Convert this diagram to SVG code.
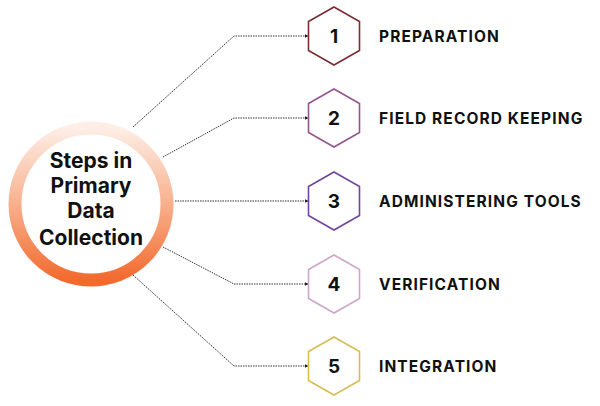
<svg xmlns="http://www.w3.org/2000/svg" width="600" height="406" viewBox="0 0 600 406">
<defs>
<linearGradient id="ring" x1="0" y1="0" x2="0" y2="1">
<stop offset="0" stop-color="#fdeee6"/>
<stop offset="0.45" stop-color="#f8b796"/>
<stop offset="1" stop-color="#f26a2e"/>
</linearGradient>
<marker id="arr" viewBox="0 0 6 6" refX="5" refY="3" markerWidth="4" markerHeight="4" orient="auto">
<path d="M0,0 L6,3 L0,6 z" fill="#222"/>
</marker>
</defs>
<style>
.conn{fill:none;stroke:#333;stroke-width:1;stroke-dasharray:1.5 1;marker-end:url(#arr)}
.hex{fill:#fff;stroke-width:1.6}
.num{font-family:Inter,"Liberation Sans",sans-serif;font-weight:700;font-size:19px;fill:#111;text-anchor:middle}
.lbl{font-family:Inter,"Liberation Sans",sans-serif;font-weight:700;font-size:15.5px;fill:#111;letter-spacing:1.1px}
.ctr{font-family:Inter,"Liberation Sans",sans-serif;font-weight:700;font-size:21px;fill:#111;text-anchor:middle}
</style>
<rect width="600" height="406" fill="#fff"/>
<g id="connectors">
<path class="conn" d="M133,127 L234,36 L308,36"/>
<path class="conn" d="M163,157 L234,118 L308,118"/>
<path class="conn" d="M175,201 L308,201"/>
<path class="conn" d="M163,247 L234,284 L308,284"/>
<path class="conn" d="M133,275 L234,366 L308,366"/>
</g>
<g id="center">
<circle cx="91" cy="204" r="76" fill="#fff" stroke="url(#ring)" stroke-width="13"/>
<text class="ctr" x="91" y="168">Steps in</text>
<text class="ctr" x="91" y="193">Primary</text>
<text class="ctr" x="91" y="218">Data</text>
<text class="ctr" x="91" y="245">Collection</text>
</g>
<g id="step1">
<polygon class="hex" stroke="#7a2e33" points="334,7 359.5,21.5 359.5,50.5 334,65 308.5,50.5 308.5,21.5"/>
<text class="num" x="334" y="43">1</text>
<text class="lbl" x="379" y="42">PREPARATION</text>
</g>
<g id="step2">
<polygon class="hex" stroke="#93548f" points="334,89 359.5,103.5 359.5,132.5 334,147 308.5,132.5 308.5,103.5"/>
<text class="num" x="334" y="125">2</text>
<text class="lbl" x="379" y="124">FIELD RECORD KEEPING</text>
</g>
<g id="step3">
<polygon class="hex" stroke="#7144a0" points="334,172 359.5,186.5 359.5,215.5 334,230 308.5,215.5 308.5,186.5"/>
<text class="num" x="334" y="208">3</text>
<text class="lbl" x="379" y="207">ADMINISTERING TOOLS</text>
</g>
<g id="step4">
<polygon class="hex" stroke="#cfa6c8" points="334,255 359.5,269.5 359.5,298.5 334,313 308.5,298.5 308.5,269.5"/>
<text class="num" x="334" y="291">4</text>
<text class="lbl" x="379" y="290">VERIFICATION</text>
</g>
<g id="step5">
<polygon class="hex" stroke="#d8bd52" points="334,337 359.5,351.5 359.5,380.5 334,395 308.5,380.5 308.5,351.5"/>
<text class="num" x="334" y="373">5</text>
<text class="lbl" x="379" y="372">INTEGRATION</text>
</g>
</svg>
